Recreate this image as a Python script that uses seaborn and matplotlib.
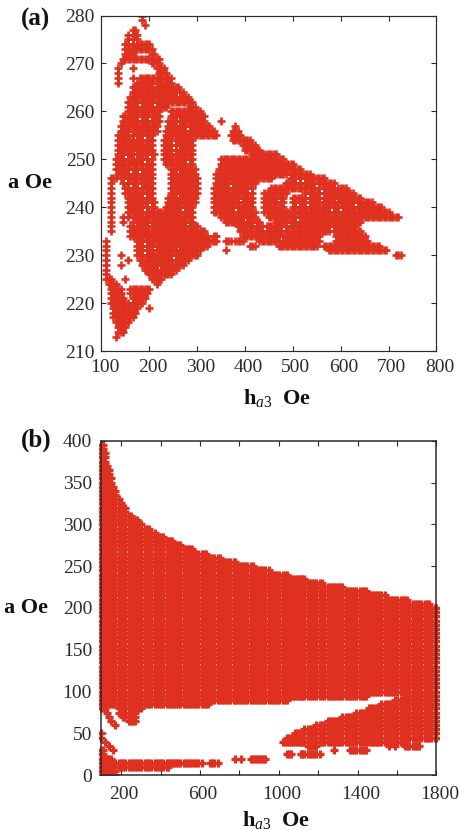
import numpy as np
import pandas as pd
import matplotlib
matplotlib.use("Agg")
import matplotlib.pyplot as plt
import seaborn as sns
from matplotlib.patches import Rectangle
from matplotlib.transforms import ScaledTranslation

# ---------------------------------------------------------------------------
# Data: scan results, one row per a value, spans of h_a3 that fall in the region
# ---------------------------------------------------------------------------

# panel (a): row a -> spans of h_a3 (Oe)
rows_a = [
    (280, [(187, 187)]), (279, [(187, 187)]), (278, [(190, 190)]),
    (277, [(163, 168)]), (276, [(155, 175)]), (275, [(153, 177)]),
    (274, [(150, 200)]), (273, [(148, 205)]), (272, [(148, 166), (205, 212)]),
    (271, [(145, 220)]), (270, [(139, 139), (205, 222)]),
    (269, [(137, 137), (167, 167), (215, 229)]),
    (268, [(137, 137), (222, 236)]),
    (267, [(137, 137), (163, 163), (181, 226), (236, 243)]),
    (266, [(137, 137), (174, 243)]), (265, [(167, 262)]), (264, [(163, 268)]),
    (263, [(160, 281)]), (262, [(156, 288)]),
    (261, [(153, 236), (285, 295)]),
    (260, [(149, 222), (243, 306)]),
    (259, [(146, 220), (243, 313)]),
    (258, [(144, 218), (242, 316), (351, 351)]),
    (257, [(142, 215), (240, 325), (379, 379)]),
    (256, [(139, 215), (236, 334), (376, 383)]),
    (255, [(135, 212), (234, 341), (369, 389)]),
    (254, [(135, 210), (232, 292), (375, 410)]),
    (253, [(135, 205), (228, 292), (393, 421)]),
    (252, [(135, 205), (228, 288), (400, 431)]),
    (251, [(133, 208), (228, 290), (414, 463)]),
    (250, [(132, 205), (230, 292), (348, 478)]),
    (249, [(132, 205), (236, 292), (348, 498)]),
    (248, [(132, 205), (243, 295), (344, 513)]),
    (247, [(135, 205), (246, 297), (341, 533)]),
    (246, [(122, 128), (142, 205), (246, 300), (341, 453), (497, 567)]),
    (245, [(122, 122), (146, 205), (246, 302), (339, 418), (487, 591)]),
    (244, [(122, 122), (150, 205), (246, 300), (337, 413), (452, 609)]),
    (243, [(122, 122), (152, 205), (243, 299), (335, 413), (442, 484), (525, 623)]),
    (242, [(122, 122), (153, 205), (240, 297), (335, 413), (442, 480), (500, 638)]),
    (241, [(122, 122), (153, 208), (240, 295), (334, 413), (442, 480), (500, 665)]),
    (240, [(122, 122), (154, 212), (236, 290), (334, 415), (442, 482), (502, 683)]),
    (239, [(122, 122), (155, 288), (337, 420), (442, 700)]),
    (238, [(120, 120), (143, 143), (153, 292), (348, 421), (452, 720)]),
    (237, [(120, 120), (143, 143), (158, 292), (358, 431), (466, 640)]),
    (236, [(120, 120), (158, 298), (385, 632)]),
    (235, [(120, 120), (161, 316), (390, 640)]),
    (234, [(161, 320), (335, 341), (395, 470), (480, 555), (592, 648)]),
    (233, [(112, 112), (168, 341), (360, 372), (382, 393), (430, 470), (480, 555), (590, 655)]),
    (232, [(112, 112), (170, 322), (410, 420), (470, 548), (565, 680)]),
    (231, [(112, 112), (174, 306), (358, 358), (575, 695)]),
    (230, [(112, 112), (142, 142), (177, 299), (717, 724)]),
    (229, [(112, 112), (155, 155), (182, 282)]),
    (228, [(112, 112), (142, 142), (185, 268)]),
    (227, [(112, 112), (192, 254)]),
    (226, [(112, 112), (200, 247)]),
    (225, [(112, 118), (149, 149), (205, 226)]),
    (224, [(115, 132), (215, 215)]),
    (223, [(119, 139), (160, 201)]),
    (222, [(119, 142), (160, 195)]),
    (221, [(119, 145), (165, 190)]),
    (220, [(122, 185)]),
    (219, [(123, 177), (200, 200)]),
    (218, [(125, 168)]), (217, [(127, 163)]), (216, [(130, 156)]),
    (215, [(133, 150)]), (214, [(135, 147)]), (213, [(130, 130)]),
]

# light dots inside the filled area of panel (a)
dots_h = [170, 190, 210, 160, 170, 170, 150, 200, 190, 160, 180, 150, 160, 180, 190,
          200, 240, 260, 270, 260, 280, 250, 260, 200, 170, 190, 160, 280, 250,
          160, 160, 170, 210, 210, 180, 150, 180, 200, 260, 260, 260, 280,
          170, 190, 220, 260, 160, 210, 190, 250,
          370, 390, 410, 450, 470, 510, 530, 530, 560, 580, 590, 600, 630, 560, 590,
          520, 550, 490, 510, 580, 400, 420, 440, 380, 480, 490, 510]
dots_a = [254, 254, 254, 255, 251, 250, 250, 250, 249, 247, 247, 245, 244, 244, 242,
          240, 244, 242, 239, 247, 249, 251, 252, 236, 236, 239, 237, 236, 253,
          275, 274, 274, 265, 261, 261, 260, 258, 258, 258, 263, 257, 256,
          232, 232, 227, 231, 220, 231, 230, 229,
          244, 241, 243, 244, 241, 240, 240, 242, 241, 239, 241, 239, 240, 243, 244,
          245, 244, 236, 237, 235, 237, 236, 235, 239, 235, 246, 245]

# panel (b): full rows, stepped upper edge and the rows below the white gap
full_a_b = [200, 195, 190, 185, 180, 175, 170, 165, 160, 155, 150, 145, 140, 135, 130,
            125, 120, 115, 110, 105, 100]
edge_a_b = [395, 390, 385, 380, 375, 370, 365, 360, 355, 350, 345, 340, 335, 330, 325,
            320, 315, 310, 305, 300, 295, 290, 285, 280, 275, 270, 265, 260, 255, 250,
            245, 240, 235, 230, 225, 220, 215, 210, 205]
edge_h_b = [106, 110, 115, 119, 124, 129, 135, 142, 147, 154, 164, 174, 184, 192, 204,
            217, 232, 252, 277, 311, 337, 370, 413, 455, 506, 565, 633, 700, 776, 869,
            946, 1039, 1132, 1225, 1326, 1436, 1538, 1647, 1758]
rows_b = [
    (95, [(100, 1445), (1650, 1800)]),
    (90, [(100, 1038), (1591, 1800)]),
    (85, [(100, 641), (1523, 1800)]),
    (80, [(100, 125), (183, 302), (1464, 1800)]),
    (75, [(128, 128), (190, 267), (1388, 1800)]),
    (70, [(137, 137), (208, 267), (1320, 1800)]),
    (65, [(152, 152), (233, 269), (1252, 1800)]),
    (60, [(167, 167), (1193, 1800)]),
    (55, [(1129, 1800)]),
    (50, [(100, 100), (1083, 1800)]),
    (45, [(100, 105), (1041, 1800)]),
    (40, [(118, 118), (1010, 1627)]),
    (35, [(135, 140), (1148, 1197), (1565, 1565), (1590, 1590), (1643, 1707)]),
    (30, [(100, 110), (165, 165), (1275, 1275), (1363, 1452)]),
    (25, [(100, 112), (1045, 1055), (1108, 1207)]),
    (20, [(100, 147), (775, 775), (808, 812), (863, 942)]),
    (15, [(100, 612), (654, 692)]),
    (10, [(100, 442)]),
    (5, [(100, 176)]),
    (0, [(100, 172)]),
]
# faint vertical lines in the filled area of panel (b)
stripes_b = [180, 230, 310, 360, 420, 510, 600, 680, 760, 850, 940, 1010, 1140, 1200,
             1240, 1330, 1400, 1450, 1530, 1610, 1670, 1730, 1780]

xticks_a = [100, 200, 300, 400, 500, 600, 700, 800]
yticks_a = [210, 220, 230, 240, 250, 260, 270, 280]
xticks_b = [200, 400, 600, 800, 1000, 1200, 1400, 1600, 1800]
xticklabels_b = ["200", "", "600", "", "1000", "", "1400", "", "1800"]
yticks_b = [0, 50, 100, 150, 200, 250, 300, 350, 400]

ROJO = "#e03020"
GRIS = "#2b2b2b"

# ---------------------------------------------------------------------------
# Theme
# ---------------------------------------------------------------------------

sns.set_theme(style="ticks")
plt.rcParams["font.family"] = ["Liberation Serif", "DejaVu Serif"]
plt.rcParams["mathtext.fontset"] = "custom"
plt.rcParams["mathtext.rm"] = "Liberation Serif"
plt.rcParams["mathtext.bf"] = "Liberation Serif:bold"
plt.rcParams["mathtext.it"] = "Liberation Serif:italic"


def expand(rows, step, offset=0, drop=()):
    """Turn spans per row into one table of scan points on a grid of h values."""
    filas = []
    for a, spans in rows:
        for lo, hi in spans:
            lo = offset + round((lo - offset) / step) * step
            hi = offset + round((hi - offset) / step) * step
            for h in np.arange(lo, hi + 1, step):
                if (int(h), a) not in drop:
                    filas.append((h, a))
    return pd.DataFrame(filas, columns=["h", "a"])


def draw_panel(ax, df, xlim, ylim, size, lw):
    sns.scatterplot(data=df, x="h", y="a", marker="+", s=size, color=ROJO,
                    linewidth=lw, ax=ax, legend=False)
    ax.set_xlim(*xlim)
    ax.set_ylim(*ylim)
    # marks stick out a little left and right of the frame, not above or below it
    ax.collections[0].set_clip_path(
        Rectangle((-0.008, 0), 1.016, 1, transform=ax.transAxes))
    ax.tick_params(axis="both", which="major", direction="in", length=3.6, width=0.8,
                   top=True, right=True, labelsize=14, colors=GRIS)
    for spine in ax.spines.values():
        spine.set_visible(True)
        spine.set_color(GRIS)


fig = plt.figure(figsize=(4.6, 8.3), dpi=100)
ax_a = fig.add_axes([101.5 / 460, 1 - 351 / 830, 335 / 460, 335.5 / 830])
ax_b = fig.add_axes([101.5 / 460, 1 - 775.3 / 830, 335 / 460, 334.6 / 830])

# ---------------------------------------------------------------------------
# Panel (a)
# ---------------------------------------------------------------------------

# a dot is left by taking out the half step points around it
huecos = set()
for h, a in zip(dots_h, dots_a):
    huecos.add((h, a))
    huecos.add((h, a + 1))
df_a = expand(rows_a, 5, drop=huecos)
draw_panel(ax_a, df_a, (100, 800), (210, 280), 30, 1.9)
ax_a.set_xticks(xticks_a)
ax_a.set_yticks(yticks_a)
ax_a.tick_params(axis="x", pad=6)
ax_a.tick_params(axis="y", pad=4.7)
for spine in ax_a.spines.values():
    spine.set_linewidth(0.85)

# ---------------------------------------------------------------------------
# Panel (b)
# ---------------------------------------------------------------------------

filas_b = [(a, [(100, h)]) for a, h in zip(edge_a_b, edge_h_b)]
filas_b += [(a, [(100, 1800)]) for a in full_a_b]
filas_b += rows_b
quitar = {(h, a) for h in stripes_b for a, _ in filas_b}
df_b = expand(filas_b, 10, drop=quitar)
draw_panel(ax_b, df_b, (100, 1800), (0, 400), 28, 2.3)
ax_b.set_xticks(xticks_b)
ax_b.set_xticklabels(xticklabels_b)
ax_b.set_yticks(yticks_b)
ax_b.tick_params(axis="x", pad=7.5)
ax_b.tick_params(axis="y", pad=6.8)
for spine in ax_b.spines.values():
    spine.set_linewidth(1.1)

# ---------------------------------------------------------------------------
# Labels
# ---------------------------------------------------------------------------

# tick labels sit a little right of their ticks in the original
corrimiento = ScaledTranslation(3 / 100, 0, fig.dpi_scale_trans)
for ax in (ax_a, ax_b):
    for etiqueta in ax.get_xticklabels():
        etiqueta.set_transform(etiqueta.get_transform() + corrimiento)
    ax.set_xlabel(r"$\mathbf{h}_{\mathit{a3}}\ \ \mathbf{Oe}$", fontsize=16, color="#111111")
    ax.set_ylabel("a Oe", fontsize=16, fontweight="bold", rotation=0, color="#111111",
                  ha="center", va="center")
ax_a.yaxis.set_label_coords(-71 / 335, 168 / 335.5)
ax_b.yaxis.set_label_coords(-75 / 335, 167 / 334.6)
ax_a.xaxis.set_label_coords(175 / 335, -36 / 335.5)
ax_b.xaxis.set_label_coords(174 / 335, -34 / 334.6)

fig.text(35 / 460, 1 - 19 / 830, "(a)", fontsize=18, fontweight="bold", color="#111111",
         ha="center", va="center")
fig.text(36 / 460, 1 - 440 / 830, "(b)", fontsize=18, fontweight="bold", color="#111111",
         ha="center", va="center")

fig.savefig("out.png", dpi=100)
plt.close(fig)
